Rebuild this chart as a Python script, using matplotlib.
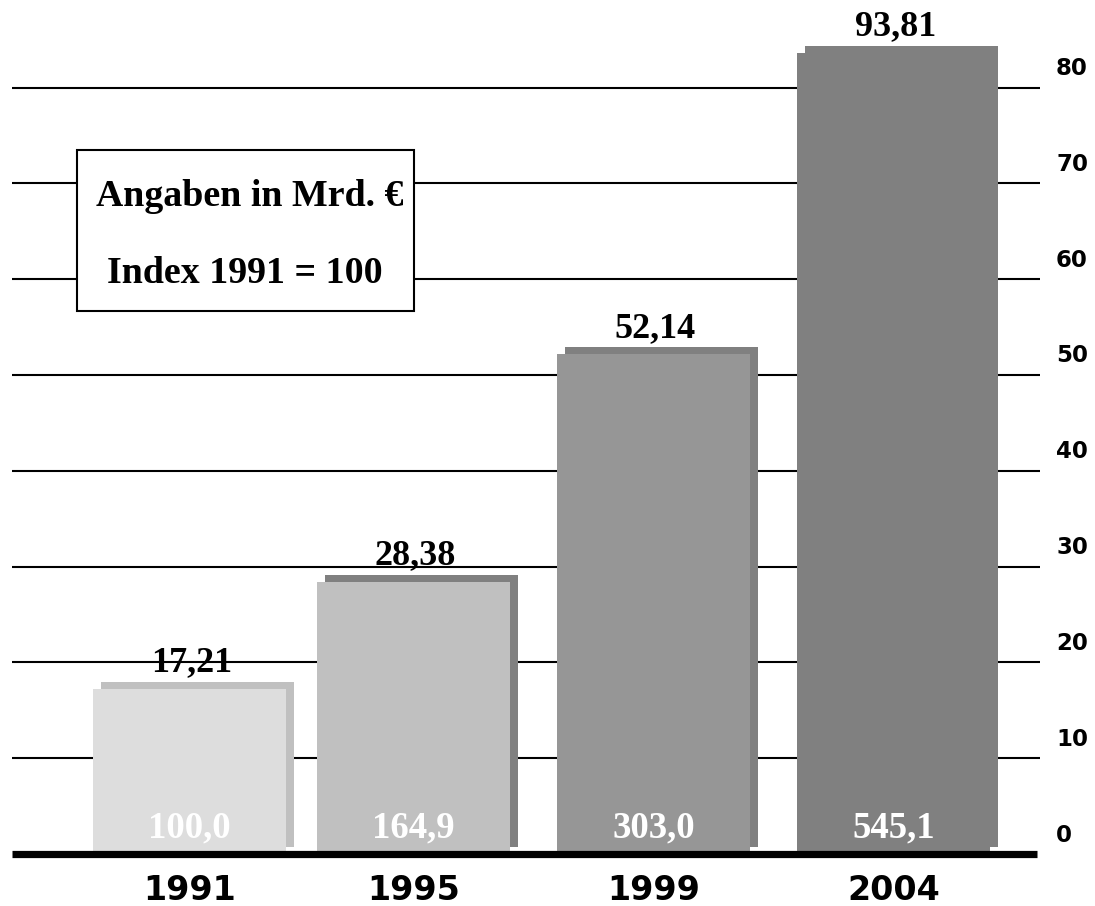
import numpy as np
import matplotlib
matplotlib.use("Agg")
import matplotlib.pyplot as plt
from matplotlib.patches import Rectangle
from matplotlib.transforms import ScaledTranslation

# ---- data ----
years = ["1991", "1995", "1999", "2004"]
values = [17.21, 28.38, 52.14, 93.81]          # Mrd. €
index_values = [100.0, 164.9, 303.0, 545.1]     # Index 1991 = 100
yticks = [0, 10, 20, 30, 40, 50, 60, 70, 80]

# ---- styles / layout ----
front_colors = ["#dddddd", "#c0c0c0", "#969696", "#808080"]
shadow_colors = ["#c0c0c0", "#808080", "#808080", "#808080"]
bar_x = [189.5, 413.5, 653.5, 893.5]   # horizontal layout (figure-pixel-like units)
bar_w = 193
W, H = 1095, 906
px_per_unit = 9.581
y0_px = 854
ymin = -(H - y0_px) / px_per_unit
ymax = y0_px / px_per_unit
cap = 83.6   # drawing limit of the value axis (bar truncated at top)

serif = "Liberation Serif"
sans = "DejaVu Sans"
PT = 72 / 100  # points per pixel

fig = plt.figure(figsize=(W / 100, H / 100), dpi=100)
ax = fig.add_axes([0, 0, 1, 1])
ax.set_xlim(0, W)
ax.set_ylim(ymin, ymax)
ax.axis("off")

# grid lines
ax.hlines(yticks[1:], 12, 1040, colors="black", lw=1.5, zorder=1)
# baseline
ax.hlines(0, 12, 1037, colors="black", lw=5.2, zorder=5)

heights = np.minimum(values, cap)

shadow_tr = ax.transData + ScaledTranslation(8 / 100, 7.5 / 100, fig.dpi_scale_trans)
ax.bar(bar_x, heights, width=bar_w, color=shadow_colors, zorder=2,
       transform=shadow_tr, linewidth=0)
ax.bar(bar_x, heights, width=bar_w, color=front_colors, zorder=3, linewidth=0)

for x, h, v, idx in zip(bar_x, heights, values, index_values):
    ax.annotate(f"{v:.2f}".replace(".", ","), (x, h), xytext=(2 * PT, 17.5 * PT),
                textcoords="offset points", ha="center", va="baseline",
                fontsize=26, fontweight="bold", family=serif, color="black", zorder=6)
    ax.annotate(f"{idx:.1f}".replace(".", ","), (x, 0), xytext=(0, 17 * PT),
                textcoords="offset points", ha="center", va="baseline",
                fontsize=26.5, fontweight="bold", family=serif, color="white", zorder=6)

# x labels
for x, yr in zip(bar_x, years):
    ax.annotate(yr, (x, 0), xytext=(0, -46 * PT), textcoords="offset points",
                ha="center", va="baseline", fontsize=24, fontweight="bold",
                family=sans, color="black")

# y labels (right side, shifted upward)
for t in yticks:
    ax.annotate(str(t), (1056, t), xytext=(0, 12.5 * PT), textcoords="offset points",
                ha="left", va="baseline", fontsize=16.5, fontweight="bold",
                family=sans, color="black")

# info box
bx0, by0, bx1, by1 = 77, 150, 414, 311
ax.add_patch(Rectangle((bx0 / W, 1 - by1 / H), (bx1 - bx0) / W, (by1 - by0) / H,
                       transform=ax.transAxes, facecolor="white", edgecolor="black",
                       lw=1.5, zorder=7))
ax.text(250 / W, 1 - 206 / H, "Angaben in Mrd. €", transform=ax.transAxes,
        ha="center", va="baseline", fontsize=27.3, fontweight="bold", family=serif, zorder=8)
ax.text(245 / W, 1 - 283 / H, "Index 1991 = 100", transform=ax.transAxes,
        ha="center", va="baseline", fontsize=27.3, fontweight="bold", family=serif, zorder=8)

fig.savefig("out.png", dpi=100)
